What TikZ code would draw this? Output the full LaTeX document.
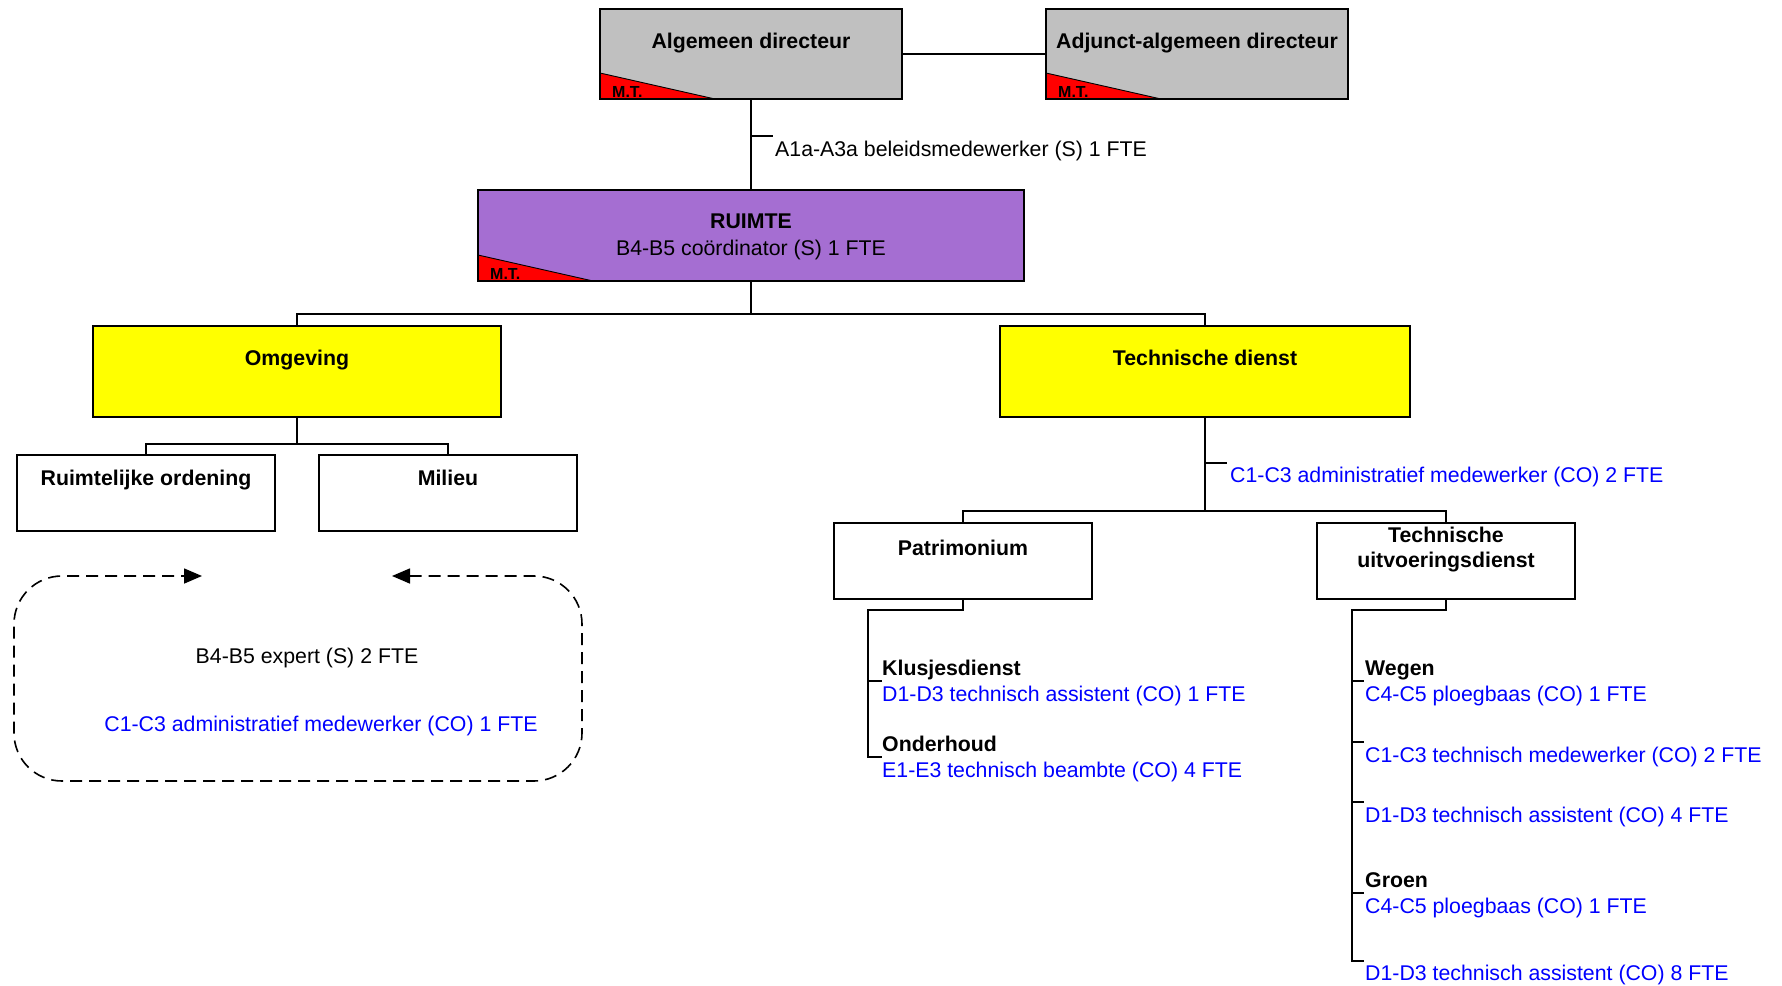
\documentclass[tikz,border=0pt]{standalone}
\usepackage{fontspec}
\setmainfont{Liberation Sans}
\usetikzlibrary{arrows.meta}
\definecolor{boxgray}{RGB}{192,192,192}
\definecolor{ruimtepurple}{RGB}{165,110,210}
\definecolor{mtred}{RGB}{255,0,0}
\definecolor{staffblue}{RGB}{0,0,255}
\definecolor{boxyellow}{RGB}{255,255,0}
\newcommand\mtcorner[1]{%
  \fill[mtred] (#1.south west) -- ++(0,-26) -- ++(115,26) -- cycle;
  \draw[line width=0.9pt] (#1.south west) ++(0,-26) -- ++(115,26);
  \draw[line width=1.6pt] (#1.south west) rectangle (#1.north east);
  \node[mt] (#1mt) at ([xshift=12pt,yshift=1.5pt]#1.south west) {M.T.};}
\begin{document}
\begin{tikzpicture}[x=1pt,y=-1pt,
  box/.style={draw=black, line width=1.6pt, rectangle, inner sep=0pt, outer sep=0pt},
  lbl/.style={font=\fontsize{21.3}{25}\selectfont, inner sep=0pt, anchor=base},
  title/.style={lbl, font=\fontsize{21.3}{25}\selectfont\bfseries},
  staff/.style={lbl, text=staffblue},
  conn/.style={draw=black, line width=2pt},
  mt/.style={font=\fontsize{16}{16}\selectfont\bfseries, inner sep=0pt, anchor=base west},
  dashbox/.style={draw=black, line width=1.6pt, dash pattern=on 12pt off 7pt, rounded corners=48pt,
    {Triangle[length=18pt,width=15pt]}-{Triangle[length=18pt,width=15pt]}}]
\useasboundingbox (0,0) rectangle (1782,985);

% boxes
\node[box, fill=boxgray, minimum width=302pt, minimum height=90pt] (ad) at (751,54) {};
\node[box, fill=boxgray, minimum width=302pt, minimum height=90pt] (aad) at (1197,54) {};
\node[box, fill=ruimtepurple, minimum width=546pt, minimum height=91pt] (ruimte) at (751,235.5) {};
\node[box, fill=boxyellow, minimum width=408pt, minimum height=91pt] (omg) at (297,371.5) {};
\node[box, fill=boxyellow, minimum width=410pt, minimum height=91pt] (tech) at (1205,371.5) {};
\node[box, fill=white, minimum width=258pt, minimum height=76pt] (ro) at (146,493) {};
\node[box, fill=white, minimum width=258pt, minimum height=76pt] (mil) at (448,493) {};
\node[box, fill=white, minimum width=258pt, minimum height=76pt] (pat) at (963,561) {};
\node[box, fill=white, minimum width=258pt, minimum height=76pt] (tud) at (1446,561) {};

\mtcorner{ad}
\mtcorner{aad}
\mtcorner{ruimte}

% box texts
\node[title] (adt) at (751,48) {Algemeen directeur};
\node[title] (aadt) at (1197,48) {Adjunct-algemeen directeur};
\node[title] (ruimtet) at (751,228) {RUIMTE};
\node[lbl] (ruimtes) at (751,255) {B4-B5 coördinator (S) 1 FTE};
\node[title] (omgt) at (297,365) {Omgeving};
\node[title] (techt) at (1205,365) {Technische dienst};
\node[title] (rot) at (146,485) {Ruimtelijke ordening};
\node[title] (milt) at (448,485) {Milieu};
\node[title] (patt) at (963,555) {Patrimonium};
\node[title] (tudt1) at (1446,542) {Technische};
\node[title] (tudt2) at (1446,567) {uitvoeringsdienst};

% top connectors
\draw[conn] (ad.east) -- (aad.west);
\draw[conn] (ad.south) -- (ad.south |- ruimte.north);
\coordinate (t1a) at (751,136);
\coordinate (t1b) at (773,136);
\draw[conn] (t1a) -- (t1b);
\node[lbl, anchor=base west] (beleid) at (775,156) {A1a-A3a beleidsmedewerker (S) 1 FTE};

\coordinate (j1) at (751,314);
\draw[conn] (ruimte.south) -- (j1);
\draw[conn] (omg.north) |- (j1) -| (tech.north);

\coordinate (j2) at (297,444);
\draw[conn] (omg.south) -- (j2);
\draw[conn] (ro.north) |- (j2) -| (mil.north);

\coordinate (j3) at (1205,511);
\draw[conn] (tech.south) -- (j3);
\draw[conn] (pat.north) |- (j3) -| (tud.north);
\coordinate (t2a) at (1205,463);
\coordinate (t2b) at (1227,463);
\draw[conn] (t2a) -- (t2b);
\node[staff, anchor=base west] (techadm) at (1230,482) {C1-C3 administratief medewerker (CO) 2 FTE};

% dashed loop
\coordinate (ar1) at (392,576);
\coordinate (ar2) at (202,576);
\draw[dashbox] (ar1) -- (582,576) -- (582,781) -- (14,781) -- (14,576) -- (ar2);
\node[lbl] (expert) at (307,663) {B4-B5 expert (S) 2 FTE};
\node[staff] (omgadm) at (321,731) {C1-C3 administratief medewerker (CO) 1 FTE};

% Patrimonium bracket
\coordinate (pk0) at (868,610);
\coordinate (pk1) at (868,681);
\coordinate (pk1e) at (882,681);
\coordinate (pk2) at (868,757);
\coordinate (pk2e) at (882,757);
\draw[conn] (pat.south) |- (pk0) -- (pk2) -- (pk2e);
\draw[conn] (pk1) -- (pk1e);
\node[title, anchor=base west] (klus) at (882,675) {Klusjesdienst};
\node[staff, anchor=base west] (klus1) at (882,701) {D1-D3 technisch assistent (CO) 1 FTE};
\node[title, anchor=base west] (onder) at (882,751) {Onderhoud};
\node[staff, anchor=base west] (onder1) at (882,777) {E1-E3 technisch beambte (CO) 4 FTE};

% Technische uitvoeringsdienst bracket
\coordinate (tk0) at (1352,610);
\coordinate (tk1) at (1352,681);
\coordinate (tk1e) at (1364,681);
\coordinate (tk2) at (1352,742);
\coordinate (tk2e) at (1364,742);
\coordinate (tk3) at (1352,802);
\coordinate (tk3e) at (1364,802);
\coordinate (tk4) at (1352,893);
\coordinate (tk4e) at (1364,893);
\coordinate (tk5) at (1352,961);
\coordinate (tk5e) at (1364,961);
\draw[conn] (tud.south) |- (tk0) -- (tk5) -- (tk5e);
\draw[conn] (tk1) -- (tk1e);
\draw[conn] (tk2) -- (tk2e);
\draw[conn] (tk3) -- (tk3e);
\draw[conn] (tk4) -- (tk4e);
\node[title, anchor=base west] (wegen) at (1365,675) {Wegen};
\node[staff, anchor=base west] (wegen1) at (1365,701) {C4-C5 ploegbaas (CO) 1 FTE};
\node[staff, anchor=base west] (wegen2) at (1365,762) {C1-C3 technisch medewerker (CO) 2 FTE};
\node[staff, anchor=base west] (wegen3) at (1365,822) {D1-D3 technisch assistent (CO) 4 FTE};
\node[title, anchor=base west] (groen) at (1365,887) {Groen};
\node[staff, anchor=base west] (groen1) at (1365,913) {C4-C5 ploegbaas (CO) 1 FTE};
\node[staff, anchor=base west] (groen2) at (1365,980) {D1-D3 technisch assistent (CO) 8 FTE};
\end{tikzpicture}
\end{document}
